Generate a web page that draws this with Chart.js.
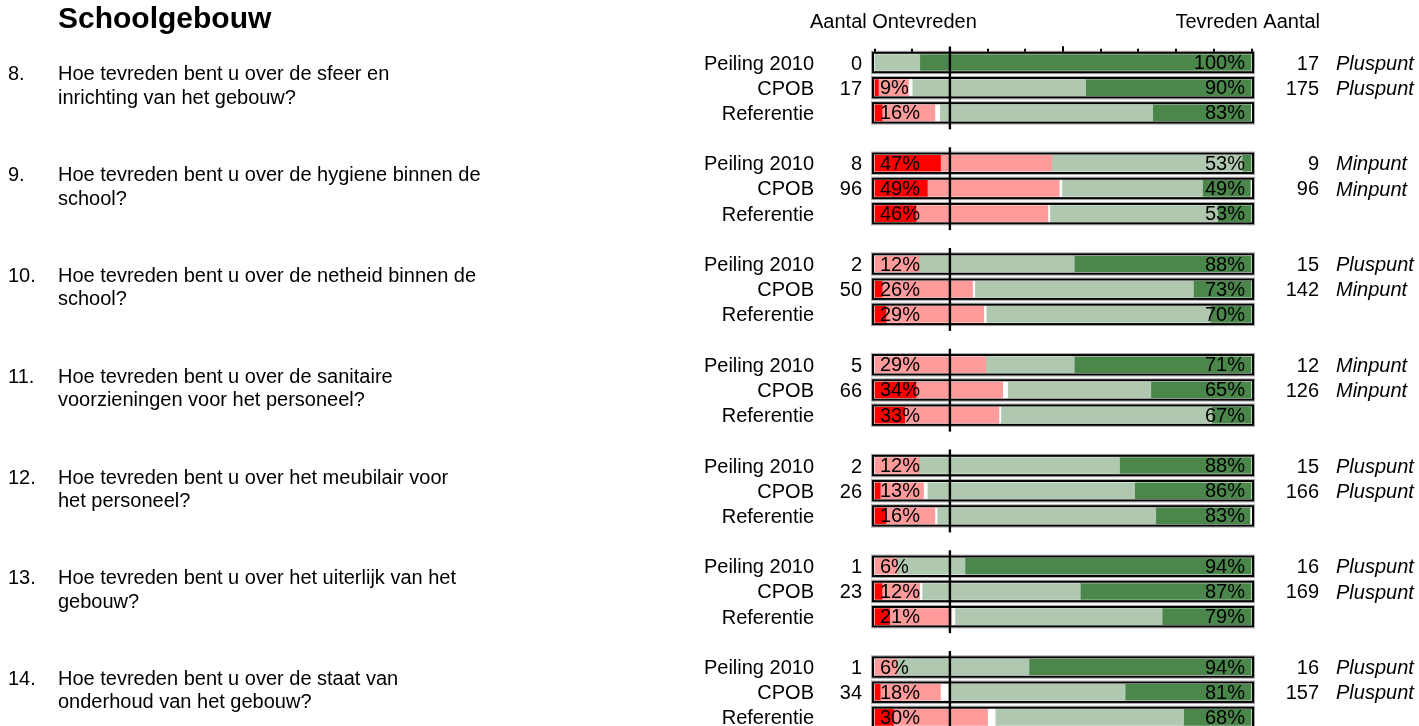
<!DOCTYPE html>
<html>
<head>
<meta charset="utf-8">
<script src="https://cdn.jsdelivr.net/npm/chart.js@4.4.0/dist/chart.umd.min.js"></script>
<style>
  html, body { margin:0; padding:0; background:#fff; overflow:hidden; }
  canvas { display:block; }
</style>
</head>
<body>
<canvas id="chart" width="1419" height="760"></canvas>
<script>
/* ── Data: 7 questions x 3 rows (Peiling 2010, CPOB, Referentie) ── */
var rowNames = ['Peiling 2010', 'CPOB', 'Referentie'];
var qNumbers = ['8.', '9.', '10.', '11.', '12.', '13.', '14.'];
var qLine1 = [
  'Hoe tevreden bent u over de sfeer en',
  'Hoe tevreden bent u over de hygiene binnen de',
  'Hoe tevreden bent u over de netheid binnen de',
  'Hoe tevreden bent u over de sanitaire',
  'Hoe tevreden bent u over het meubilair voor',
  'Hoe tevreden bent u over het uiterlijk van het',
  'Hoe tevreden bent u over de staat van'
];
var qLine2 = [
  'inrichting van het gebouw?',
  'school?',
  'school?',
  'voorzieningen voor het personeel?',
  'het personeel?',
  'gebouw?',
  'onderhoud van het gebouw?'
];

// percentages per bar segment (row order: P2010, CPOB, Ref per question)
var zeerOntevreden = [0,1,2,      17.5,14,11,   0,2,3,      0,11,8,      0,1.5,3,    0,2,4,      0,1.5,5];
var ontevreden     = [0,8,14,     29.5,35,35,   12,24,26,   29.5,23,25,  12,11.5,13, 6,10,16.5,  6,16,25];
var neutraal       = [0,1,1.3,    0,0.7,0.5,    0,0.6,0.6,  0,1.3,0.5,   0,1,0.6,    0,0.6,0.8,  0,2,2];
var tevreden       = [12,46,56.5, 50.5,37.3,44.5, 41,58,59.5, 23.5,38,56, 53,55,58,  18,42,55,   35,47,50];
var zeerTevreden   = [88,44,26,   2.5,12.7,9,   47,15.4,11, 47,26.7,10.5, 35,31,25, 76,45.4,24, 59,33.5,18];

var pctOnt = ['', '9%', '16%',  '47%','49%','46%', '12%','26%','29%', '29%','34%','33%', '12%','13%','16%', '6%','12%','21%', '6%','18%','30%'];
var pctTev = ['100%','90%','83%', '53%','49%','53%', '88%','73%','70%', '71%','65%','67%', '88%','86%','83%', '94%','87%','79%', '94%','81%','68%'];

var countOnt = [0,17,null, 8,96,null, 2,50,null, 5,66,null, 2,26,null, 1,23,null, 1,34,null];
var countTev = [17,175,null, 9,96,null, 15,142,null, 12,126,null, 15,166,null, 16,169,null, 16,157,null];
var verdict  = ['Pluspunt','Pluspunt',null, 'Minpunt','Minpunt',null, 'Pluspunt','Minpunt',null,
                'Minpunt','Minpunt',null, 'Pluspunt','Pluspunt',null, 'Pluspunt','Pluspunt',null,
                'Pluspunt','Pluspunt',null];

var axisTicks = [0,10,20,30,40,50,60,70,80,90,100];

/* ── Helpers: 4 slots per question (3 bars + 1 gap) ── */
function slotOf(i) { return Math.floor(i / 3) * 4 + (i % 3); }

// empty segments become null so no hairline bar is drawn for them
function expand(arr) {
  var out = [];
  for (var g = 0; g < 7; g++) {
    for (var r = 0; r < 3; r++) { var v = arr[g*3 + r]; out.push(v ? v : null); }
    out.push(null);
  }
  return out;
}

var slotLabels = [];
for (var g = 0; g < 7; g++) { slotLabels.push(rowNames[0], rowNames[1], rowNames[2], ''); }

var FONT = "'Liberation Sans', Arial, sans-serif";

var textPlugin = {
  id: 'schoolText',
  afterDatasetsDraw: function(chart) {
    var ctx = chart.ctx, xs = chart.scales.x, ys = chart.scales.y;
    var x0 = xs.getPixelForValue(0), x100 = xs.getPixelForValue(100), x20 = xs.getPixelForValue(20);
    var i, c;
    ctx.save();

    // bar frames
    for (i = 0; i < 21; i++) {
      c = ys.getPixelForValue(slotOf(i));
      ctx.strokeStyle = '#a8a8a8'; ctx.lineWidth = 1;
      ctx.strokeRect(x0 - 3, c - 11.2, x100 - x0 + 6, 22.4);
      ctx.strokeStyle = '#000'; ctx.lineWidth = 2;
      ctx.strokeRect(x0 - 1.5, c - 9.7, x100 - x0 + 3, 19.4);
    }

    // top tick marks (first group only)
    var topY = ys.getPixelForValue(0) - 10.7;
    ctx.strokeStyle = '#000'; ctx.lineWidth = 2;
    axisTicks.forEach(function(v) {
      var tx = Math.round(xs.getPixelForValue(v));
      ctx.beginPath();
      ctx.moveTo(tx, topY);
      ctx.lineTo(tx, topY - (v === 50 ? 5.5 : 3));
      ctx.stroke();
    });

    // thick 20% line per question
    ctx.lineWidth = 2.4;
    for (var g = 0; g < 7; g++) {
      var pc = ys.getPixelForValue(g*4), rc = ys.getPixelForValue(g*4 + 2);
      ctx.beginPath();
      ctx.moveTo(x20, pc - 16);
      ctx.lineTo(x20, rc + 16.5);
      ctx.stroke();

      // question text
      ctx.fillStyle = '#000';
      ctx.font = '20px ' + FONT;
      ctx.textAlign = 'left'; ctx.textBaseline = 'alphabetic';
      ctx.fillText(qNumbers[g], 8, pc + 18);
      ctx.fillText(qLine1[g], 58, pc + 18);
      ctx.fillText(qLine2[g], 58, pc + 41.4);
    }

    // row texts
    for (i = 0; i < 21; i++) {
      c = ys.getPixelForValue(slotOf(i));
      ctx.fillStyle = '#000';
      ctx.textBaseline = 'middle';
      ctx.font = '20px ' + FONT;
      ctx.textAlign = 'right';
      ctx.fillText(rowNames[i % 3], 814, c + 1.5);
      if (countOnt[i] !== null) ctx.fillText(String(countOnt[i]), 862, c + 1.5);
      if (countTev[i] !== null) ctx.fillText(String(countTev[i]), 1319, c + 1.5);
      if (verdict[i]) {
        ctx.textAlign = 'left';
        ctx.font = 'italic 20px ' + FONT;
        ctx.fillText(verdict[i], 1336, c + 1.5);
      }
      ctx.font = '20px ' + FONT;
      ctx.textAlign = 'left';
      if (pctOnt[i]) ctx.fillText(pctOnt[i], x0 + 5.5, c + 1);
      ctx.textAlign = 'right';
      ctx.fillText(pctTev[i], x100 - 6.5, c + 1);
    }

    // title and headers
    ctx.textBaseline = 'alphabetic';
    ctx.textAlign = 'left';
    ctx.font = 'bold 30px ' + FONT;
    ctx.fillText('Schoolgebouw', 58, 28);
    ctx.font = '20px ' + FONT;
    ctx.fillText('Aantal Ontevreden', 810, 28);
    ctx.textAlign = 'right';
    ctx.fillText('Tevreden Aantal', 1320, 28);

    ctx.restore();
  }
};

new Chart(document.getElementById('chart'), {
  type: 'bar',
  data: {
    labels: slotLabels,
    datasets: [
      { label: 'Zeer ontevreden', data: expand(zeerOntevreden), backgroundColor: '#ff0000' },
      { label: 'Ontevreden',      data: expand(ontevreden),     backgroundColor: '#ff9b9b' },
      { label: 'Neutraal',        data: expand(neutraal),       backgroundColor: '#ffffff' },
      { label: 'Tevreden',        data: expand(tevreden),       backgroundColor: '#b0c8b0' },
      { label: 'Zeer tevreden',   data: expand(zeerTevreden),   backgroundColor: '#4b874b' }
    ]
  },
  options: {
    indexAxis: 'y',
    responsive: false,
    animation: false,
    datasets: { bar: { barThickness: 16, borderWidth: 0 } },
    layout: { padding: { left: 874.5, right: 167.5, top: 49.9, bottom: 4.8 } },
    plugins: { legend: { display: false }, tooltip: { enabled: false } },
    scales: {
      x: { stacked: true, min: 0, max: 100, display: false },
      y: { stacked: true, display: false }
    }
  },
  plugins: [textPlugin]
});
</script>
</body>
</html>
